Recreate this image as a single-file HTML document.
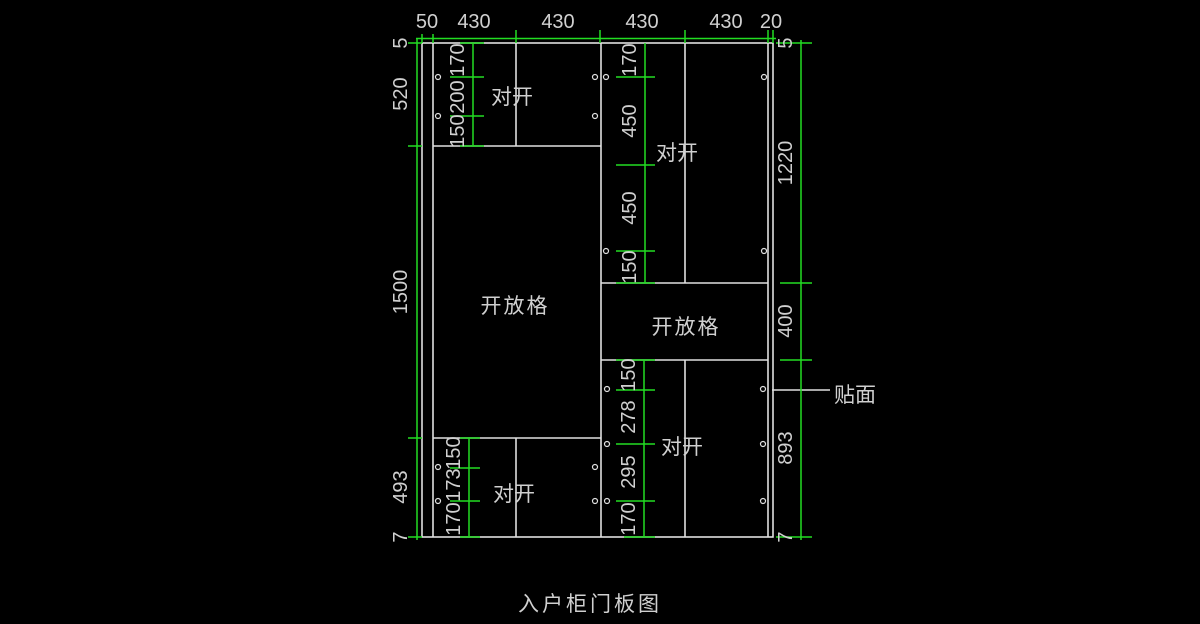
<!DOCTYPE html>
<html><head><meta charset="utf-8"><style>
html,body{margin:0;padding:0;background:#000;}
svg{display:block;}
text{font-family:"Liberation Sans","Noto Sans CJK SC",sans-serif;fill:#d0d0d0;}
.d{font-size:20px;}
.c{font-size:21px;}
</style></head><body>
<svg width="1200" height="624" viewBox="0 0 1200 624">
<g stroke="#e0e0e0" stroke-width="1.6" fill="none">
<rect x="422" y="43" width="351" height="494"/>
<line x1="433" y1="43" x2="433" y2="537"/>
<line x1="768" y1="43" x2="768" y2="537"/>
<line x1="601" y1="43" x2="601" y2="537"/>
<line x1="433" y1="146" x2="601" y2="146"/>
<line x1="433" y1="438" x2="601" y2="438"/>
<line x1="516" y1="43" x2="516" y2="146"/>
<line x1="516" y1="438" x2="516" y2="537"/>
<line x1="601" y1="283" x2="768" y2="283"/>
<line x1="601" y1="360" x2="768" y2="360"/>
<line x1="685" y1="43" x2="685" y2="283"/>
<line x1="685" y1="360" x2="685" y2="537"/>
<line x1="772" y1="390" x2="830" y2="390"/>
</g>
<g stroke="#e0e0e0" stroke-width="1.2" fill="none">
<circle cx="438" cy="77" r="2.5"/><circle cx="438" cy="116" r="2.5"/>
<circle cx="595" cy="77" r="2.5"/><circle cx="595" cy="116" r="2.5"/>
<circle cx="438" cy="467" r="2.5"/><circle cx="438" cy="501" r="2.5"/>
<circle cx="595" cy="467" r="2.5"/><circle cx="595" cy="501" r="2.5"/>
<circle cx="606" cy="77" r="2.5"/><circle cx="606" cy="251" r="2.5"/>
<circle cx="764" cy="77" r="2.5"/><circle cx="764" cy="251" r="2.5"/>
<circle cx="607" cy="389" r="2.5"/><circle cx="607" cy="444" r="2.5"/><circle cx="607" cy="501" r="2.5"/>
<circle cx="763" cy="389" r="2.5"/><circle cx="763" cy="444" r="2.5"/><circle cx="763" cy="501" r="2.5"/>
</g>
<g stroke="#22dd22" stroke-width="1.5" fill="none">
<line x1="416" y1="38.5" x2="776" y2="38.5"/>
<line x1="422" y1="34" x2="422" y2="43"/><line x1="433" y1="34" x2="433" y2="43"/>
<line x1="516" y1="30" x2="516" y2="43"/><line x1="600" y1="30" x2="600" y2="43"/>
<line x1="685" y1="30" x2="685" y2="43"/><line x1="768" y1="30" x2="768" y2="43"/>
<line x1="773" y1="30" x2="773" y2="43"/>
<line x1="417" y1="38" x2="417" y2="540"/>
<line x1="408" y1="43" x2="422" y2="43"/><line x1="408" y1="146" x2="422" y2="146"/>
<line x1="408" y1="438" x2="422" y2="438"/><line x1="408" y1="537" x2="422" y2="537"/>
<line x1="801" y1="40" x2="801" y2="540"/>
<line x1="776" y1="43" x2="812" y2="43"/><line x1="780" y1="283" x2="812" y2="283"/>
<line x1="780" y1="360" x2="812" y2="360"/><line x1="776" y1="537" x2="812" y2="537"/>
<line x1="473" y1="43" x2="473" y2="146"/>
<line x1="450" y1="77" x2="484" y2="77"/><line x1="450" y1="116" x2="484" y2="116"/>
<line x1="460" y1="146" x2="484" y2="146"/><line x1="460" y1="43" x2="484" y2="43"/>
<line x1="469" y1="438" x2="469" y2="537"/>
<line x1="460" y1="438" x2="480" y2="438"/><line x1="450" y1="468" x2="480" y2="468"/>
<line x1="450" y1="501" x2="480" y2="501"/><line x1="460" y1="537" x2="480" y2="537"/>
<line x1="645" y1="43" x2="645" y2="283"/>
<line x1="616" y1="77" x2="655" y2="77"/><line x1="616" y1="165" x2="655" y2="165"/>
<line x1="616" y1="251" x2="655" y2="251"/><line x1="616" y1="283" x2="655" y2="283"/>
<line x1="644" y1="360" x2="644" y2="537"/>
<line x1="616" y1="360" x2="655" y2="360"/><line x1="616" y1="390" x2="655" y2="390"/>
<line x1="616" y1="444" x2="655" y2="444"/><line x1="616" y1="501" x2="655" y2="501"/>
<line x1="624" y1="537" x2="655" y2="537"/>
</g>
<text class="d" x="427" y="28" text-anchor="middle">50</text>
<text class="d" x="474" y="28" text-anchor="middle">430</text>
<text class="d" x="558" y="28" text-anchor="middle">430</text>
<text class="d" x="642" y="28" text-anchor="middle">430</text>
<text class="d" x="726" y="28" text-anchor="middle">430</text>
<text class="d" x="771" y="28" text-anchor="middle">20</text>
<text class="d" transform="translate(407,43) rotate(-90)" text-anchor="middle">5</text>
<text class="d" transform="translate(407,94) rotate(-90)" text-anchor="middle">520</text>
<text class="d" transform="translate(407,292) rotate(-90)" text-anchor="middle">1500</text>
<text class="d" transform="translate(407,487) rotate(-90)" text-anchor="middle">493</text>
<text class="d" transform="translate(407,537) rotate(-90)" text-anchor="middle">7</text>
<text class="d" transform="translate(464,60) rotate(-90)" text-anchor="middle">170</text>
<text class="d" transform="translate(464,97) rotate(-90)" text-anchor="middle">200</text>
<text class="d" transform="translate(464,131) rotate(-90)" text-anchor="middle">150</text>
<text class="d" transform="translate(460,453) rotate(-90)" text-anchor="middle">150</text>
<text class="d" transform="translate(460,485) rotate(-90)" text-anchor="middle">173</text>
<text class="d" transform="translate(460,519) rotate(-90)" text-anchor="middle">170</text>
<text class="d" transform="translate(636,60) rotate(-90)" text-anchor="middle">170</text>
<text class="d" transform="translate(636,121) rotate(-90)" text-anchor="middle">450</text>
<text class="d" transform="translate(636,208) rotate(-90)" text-anchor="middle">450</text>
<text class="d" transform="translate(636,267) rotate(-90)" text-anchor="middle">150</text>
<text class="d" transform="translate(635,375) rotate(-90)" text-anchor="middle">150</text>
<text class="d" transform="translate(635,417) rotate(-90)" text-anchor="middle">278</text>
<text class="d" transform="translate(635,472) rotate(-90)" text-anchor="middle">295</text>
<text class="d" transform="translate(635,519) rotate(-90)" text-anchor="middle">170</text>
<text class="d" transform="translate(792,43) rotate(-90)" text-anchor="middle">5</text>
<text class="d" transform="translate(792,163) rotate(-90)" text-anchor="middle">1220</text>
<text class="d" transform="translate(792,321) rotate(-90)" text-anchor="middle">400</text>
<text class="d" transform="translate(792,448) rotate(-90)" text-anchor="middle">893</text>
<text class="d" transform="translate(792,537) rotate(-90)" text-anchor="middle">7</text>
<text class="c" x="512" y="104" text-anchor="middle">对开</text>
<text class="c" x="677" y="160" text-anchor="middle">对开</text>
<text class="c" x="682" y="454" text-anchor="middle">对开</text>
<text class="c" x="514" y="501" text-anchor="middle">对开</text>
<text class="c" x="515" y="313" text-anchor="middle" letter-spacing="2">开放格</text>
<text class="c" x="686" y="334" text-anchor="middle" letter-spacing="2">开放格</text>
<text class="c" x="855" y="402" text-anchor="middle">贴面</text>
<text class="c" x="590" y="611" text-anchor="middle" letter-spacing="3">入户柜门板图</text>
</svg>
</body></html>
